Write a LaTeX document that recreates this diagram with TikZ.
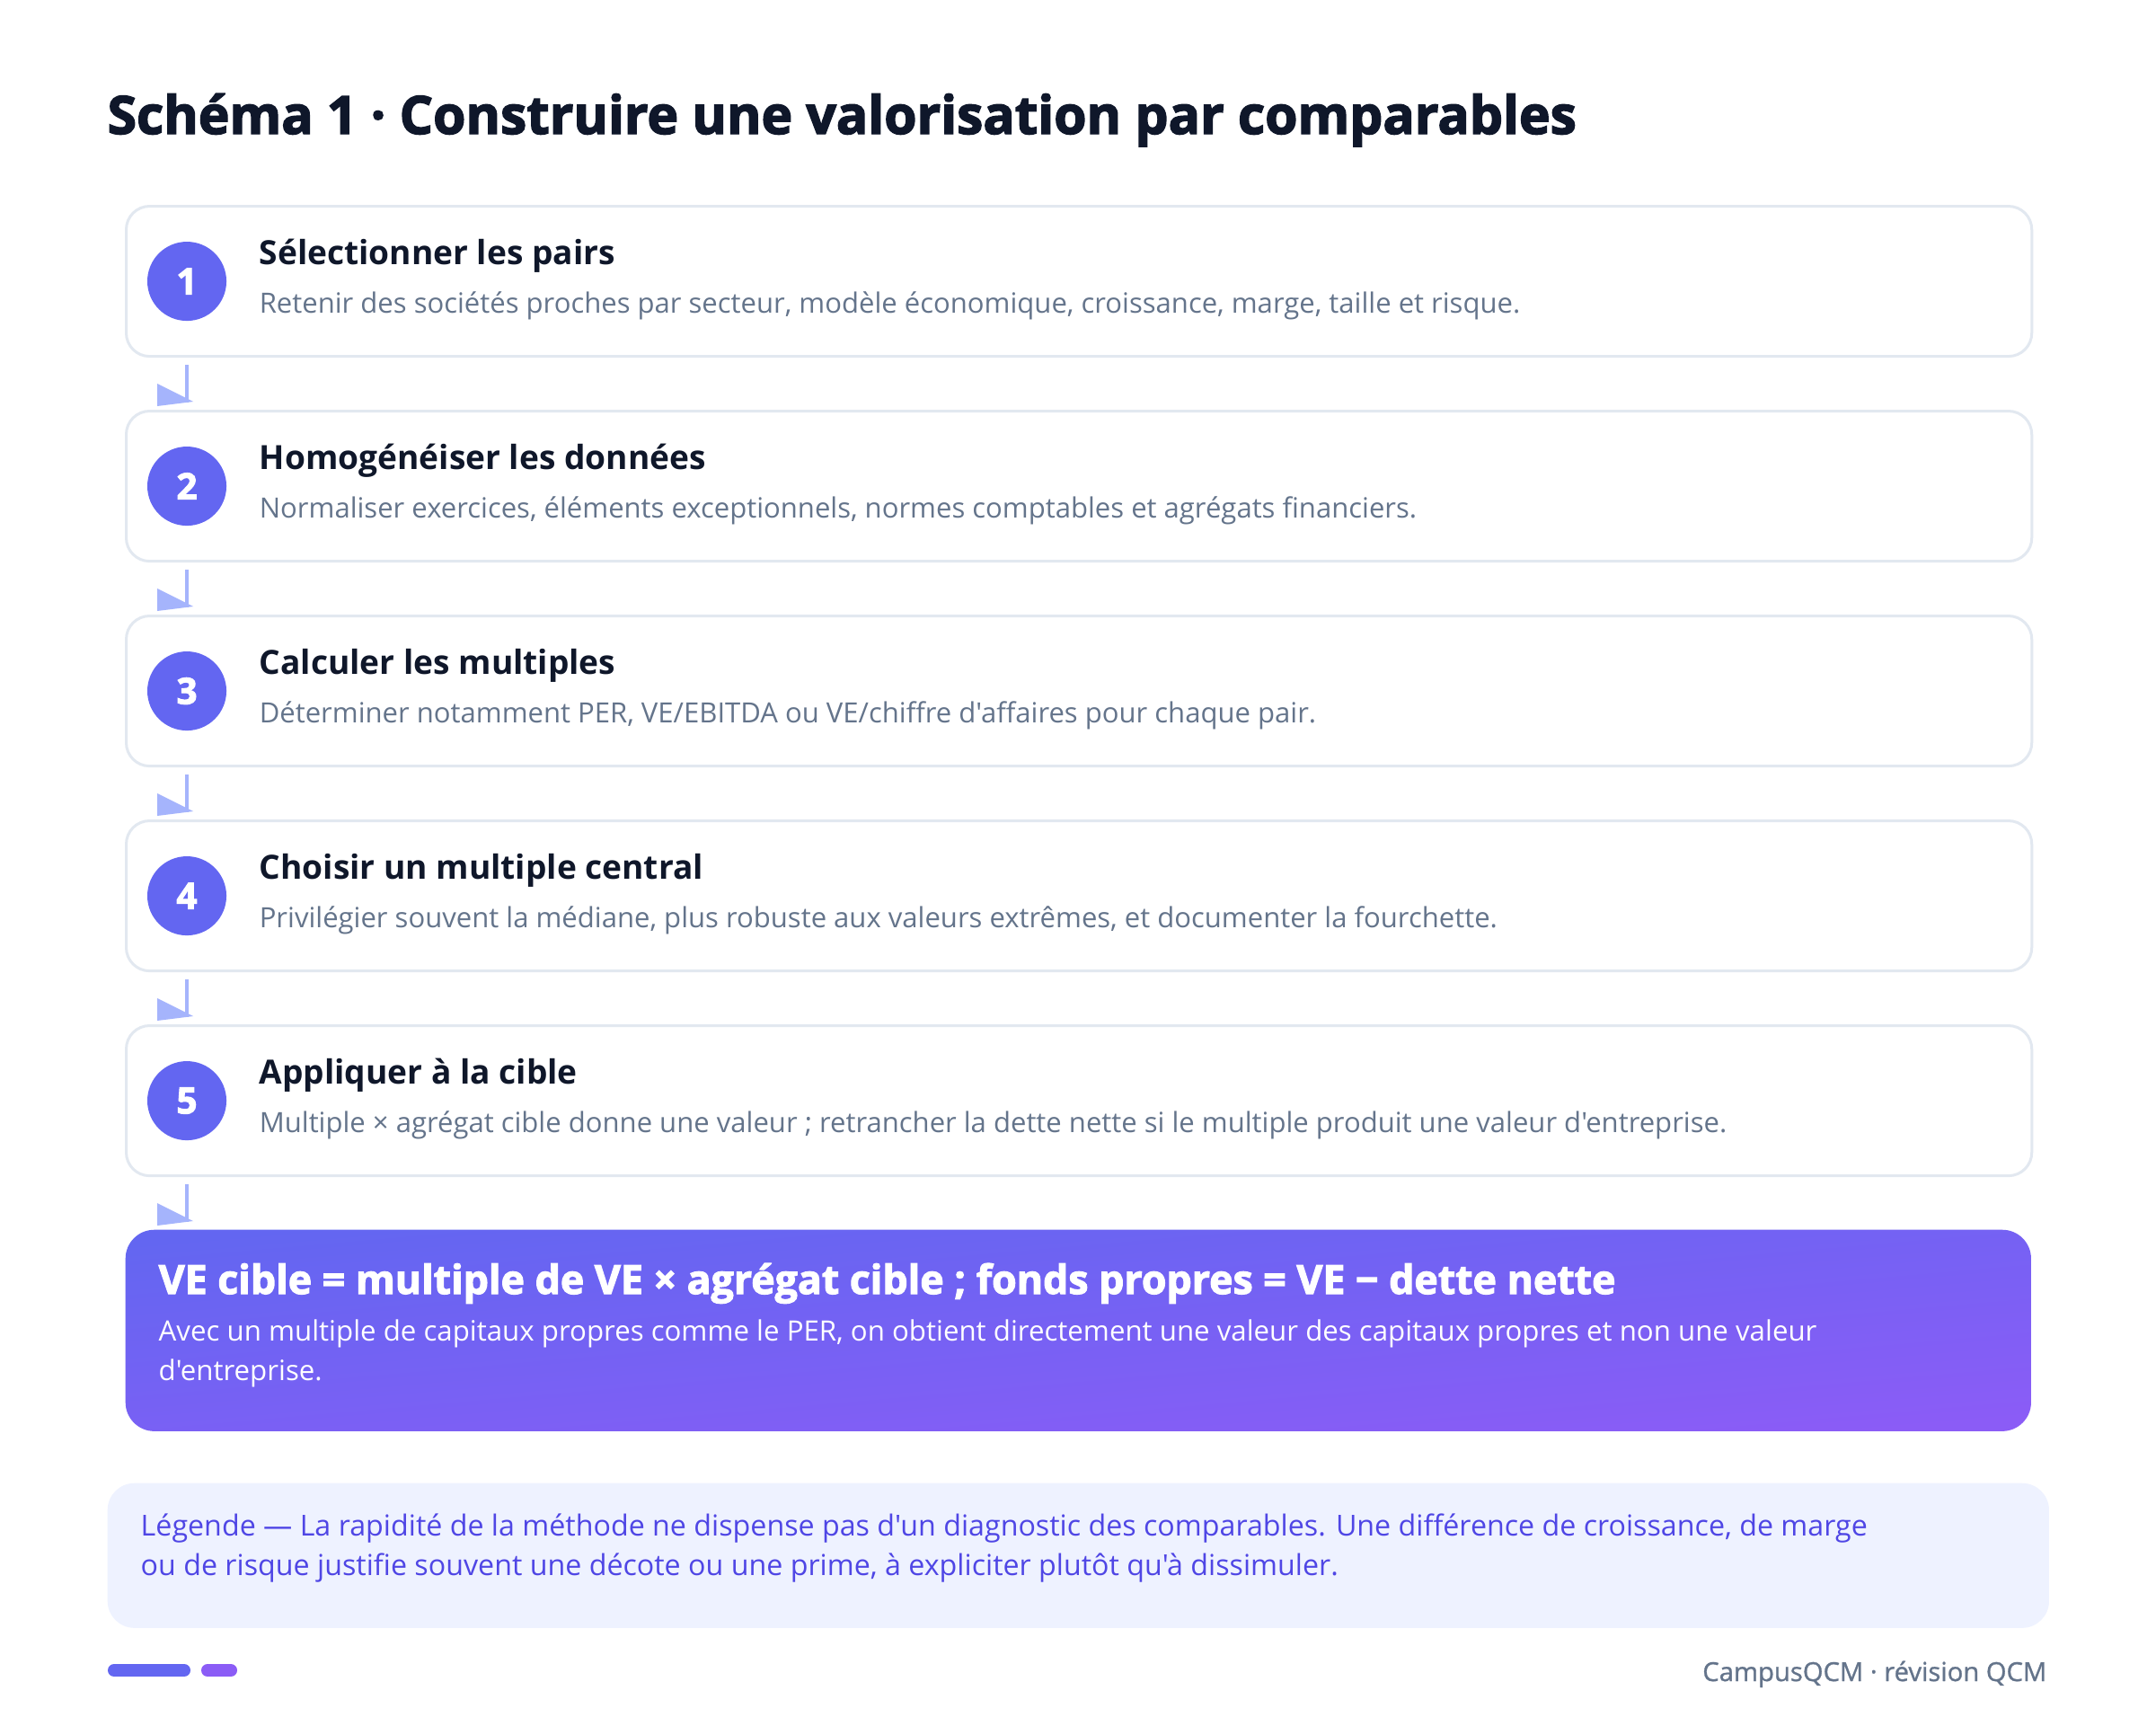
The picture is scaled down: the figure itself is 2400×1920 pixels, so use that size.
\documentclass[tikz,border=0pt]{standalone}
\usepackage{fontspec}
\setmainfont{Open Sans}[Ligatures=TeXOff]
\newfontfamily\blackfont{Open Sans}[Ligatures=TeXOff, BoldFeatures={FakeBold=2.5}]
\newfontfamily\semifont{Open Sans}[Ligatures=TeXOff, FakeBold=1]
\definecolor{ink}{HTML}{0F172A}
\definecolor{slate}{HTML}{64748B}
\definecolor{boxline}{HTML}{E2E8F0}
\definecolor{indigoA}{HTML}{6366F1}
\definecolor{violetB}{HTML}{8B5CF6}
\definecolor{arrowblue}{HTML}{A5B4FC}
\definecolor{legendbg}{HTML}{EEF2FF}
\definecolor{legendtext}{HTML}{4F46E5}
% connector between two steps
\newcommand{\flowstep}[2]{%
  \draw[flowline] ([xshift=0.69cm,yshift=-0.08cm]#1.south west) -- ([xshift=0.69cm,yshift=0.08cm]#2.north west);%
  \fill[flowtip] ([xshift=0.36cm,yshift=0.29cm]#2.north west) -- ([xshift=0.36cm,yshift=0.04cm]#2.north west) -- ([xshift=0.76cm,yshift=0.09cm]#2.north west) -- cycle;%
}
\begin{document}
\begin{tikzpicture}[x=0.01cm, y=-0.01cm,
  stepbox/.style={draw=boxline, line width=0.03cm, fill=white, rounded corners=0.26cm,
    minimum width=21.2cm, minimum height=1.67cm, inner sep=0pt, anchor=north west},
  stepnum/.style={circle, fill=indigoA, text=white, minimum size=0.88cm, inner sep=0pt,
    font=\fontsize{11.5pt}{11.5pt}\selectfont\blackfont\bfseries},
  steptitle/.style={anchor=base west, inner sep=0pt, text=ink, font=\fontsize{10.55pt}{12pt}\selectfont\bfseries},
  steptext/.style={anchor=base west, inner sep=0pt, text=slate, font=\fontsize{8.83pt}{10pt}\selectfont},
  flowline/.style={draw=arrowblue, line width=0.04cm},
  flowtip/.style={fill=arrowblue},
]
\useasboundingbox[fill=white] (0,0) rectangle (2400,1920);

% Title
\node[anchor=base west, inner sep=0pt, text=ink, font=\fontsize{16.7pt}{18pt}\selectfont\blackfont\bfseries] (title) at (119,149)
  {Schéma 1 · Construire une valorisation par comparables};

% Step 1
\node[stepbox] (s1) at (139,228) {};
\node[stepnum] (n1) at ([xshift=0.69cm]s1.west) {1};
\node[steptitle] (t1) at ([xshift=1.49cm,yshift=-0.66cm]s1.north west) {Sélectionner les pairs};
\node[steptext] (d1) at ([xshift=1.49cm,yshift=-1.2cm]s1.north west)
  {Retenir des sociétés proches par secteur, modèle économique, croissance, marge, taille et risque.};

% Step 2
\node[stepbox] (s2) at (139,456) {};
\node[stepnum] (n2) at ([xshift=0.69cm]s2.west) {2};
\node[steptitle] (t2) at ([xshift=1.49cm,yshift=-0.66cm]s2.north west) {Homogénéiser les données};
\node[steptext] (d2) at ([xshift=1.49cm,yshift=-1.2cm]s2.north west)
  {Normaliser exercices, éléments exceptionnels, normes comptables et agrégats financiers.};

% Step 3
\node[stepbox] (s3) at (139,684) {};
\node[stepnum] (n3) at ([xshift=0.69cm]s3.west) {3};
\node[steptitle] (t3) at ([xshift=1.49cm,yshift=-0.66cm]s3.north west) {Calculer les multiples};
\node[steptext] (d3) at ([xshift=1.49cm,yshift=-1.2cm]s3.north west)
  {Déterminer notamment PER, VE/EBITDA ou VE/chiffre d'affaires pour chaque pair.};

% Step 4
\node[stepbox] (s4) at (139,912) {};
\node[stepnum] (n4) at ([xshift=0.69cm]s4.west) {4};
\node[steptitle] (t4) at ([xshift=1.49cm,yshift=-0.66cm]s4.north west) {Choisir un multiple central};
\node[steptext] (d4) at ([xshift=1.49cm,yshift=-1.2cm]s4.north west)
  {Privilégier souvent la médiane, plus robuste aux valeurs extrêmes, et documenter la fourchette.};

% Step 5
\node[stepbox] (s5) at (139,1140) {};
\node[stepnum] (n5) at ([xshift=0.69cm]s5.west) {5};
\node[steptitle] (t5) at ([xshift=1.49cm,yshift=-0.66cm]s5.north west) {Appliquer à la cible};
\node[steptext] (d5) at ([xshift=1.49cm,yshift=-1.2cm]s5.north west)
  {Multiple × agrégat cible donne une valeur ; retrancher la dette nette si le multiple produit une valeur d'entreprise.};

% Summary formula
\node[anchor=north west, inner sep=0pt, minimum width=21.2cm, minimum height=2.24cm, rounded corners=0.32cm,
  top color=indigoA, bottom color=violetB, shading angle=5] (sum) at (139,1368) {};
\node[anchor=base west, inner sep=0pt, text=white, font=\fontsize{12.7pt}{14pt}\selectfont\blackfont\bfseries] (sumtitle)
  at ([xshift=0.37cm,yshift=-0.72cm]sum.north west)
  {VE cible = multiple de VE × agrégat cible ; fonds propres = VE − dette nette};
\node[anchor=base west, inner sep=0pt, text=white, align=left, font=\fontsize{8.88pt}{12.4pt}\selectfont] (sumtext)
  at ([xshift=0.37cm,yshift=-1.68cm]sum.north west)
  {Avec un multiple de capitaux propres comme le PER, on obtient directement une valeur des capitaux propres et non une valeur\\d'entreprise.};

% Connectors
\flowstep{s1}{s2}
\flowstep{s2}{s3}
\flowstep{s3}{s4}
\flowstep{s4}{s5}
\flowstep{s5}{sum}

% Legend
\node[anchor=north west, inner sep=0pt, minimum width=21.6cm, minimum height=1.61cm, rounded corners=0.3cm,
  fill=legendbg] (legend) at (119,1650) {};
\node[anchor=base west, inner sep=0pt, text=legendtext, align=left, font=\fontsize{9.16pt}{12.5pt}\selectfont] (legendtext)
  at ([xshift=0.37cm,yshift=-1.03cm]legend.north west)
  {Légende — La rapidité de la méthode ne dispense pas d'un diagnostic des comparables. Une différence de croissance, de marge\\ou de risque justifie souvent une décote ou une prime, à expliciter plutôt qu'à dissimuler.};

% Footer
\draw[indigoA, line width=0.14cm, line cap=round] (127,1859) -- (205,1859);
\draw[violetB, line width=0.14cm, line cap=round] (231,1859) -- (257,1859);
\node[anchor=base east, inner sep=0pt, text=slate, font=\fontsize{8.3pt}{10pt}\selectfont\semifont] (footer) at (2279,1871)
  {CampusQCM · révision QCM};
\end{tikzpicture}
\end{document}
